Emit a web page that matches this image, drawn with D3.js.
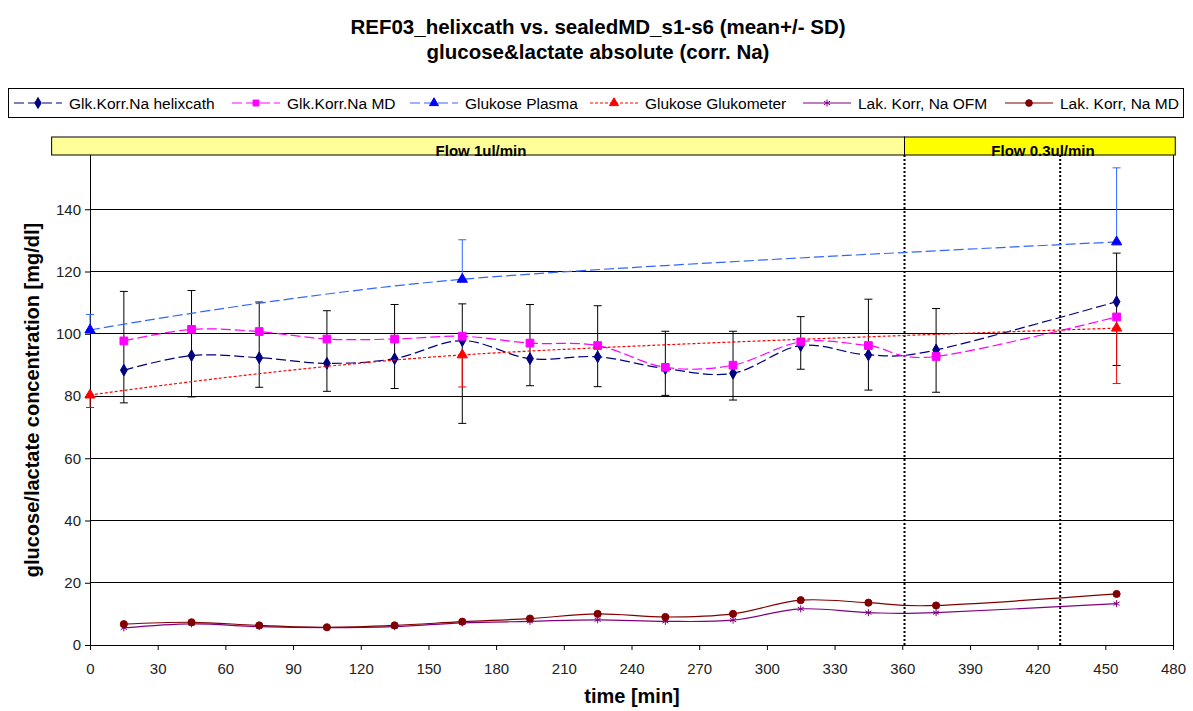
<!DOCTYPE html>
<html>
<head>
<meta charset="utf-8">
<script src="https://cdn.jsdelivr.net/npm/d3@7"></script>
<style>
  body { margin: 0; background: #fff; }
  text { font-family: Arial, "Liberation Sans", sans-serif; }
</style>
</head>
<body>
<div id="chart"></div>
<script>
// Datos (valores en mg/dl, tiempo en min)
const times = [15, 45, 75, 105, 135, 165, 195, 225, 255, 285, 315, 345, 375, 455];
const helixcath = [88.3, 93.0, 92.3, 90.5, 92.0, 97.8, 92.0, 92.6, 88.8, 87.3, 96.2, 93.2, 94.8, 110.3];
const helixHigh = [113.6, 113.9, 110.2, 107.4, 109.4, 109.6, 109.4, 109.0, 100.8, 100.8, 105.5, 111.1, 108.1, 125.9];
const helixLow = [77.8, 79.7, 82.8, 81.5, 82.4, 71.2, 83.3, 83.0, 80.2, 78.7, 88.6, 81.9, 81.2, 89.8];
const mdGlk = [97.7, 101.4, 100.7, 98.3, 98.3, 99.2, 97.0, 96.2, 89.2, 89.9, 97.4, 96.2, 92.7, 105.4];

const plasmaTimes = [0, 165, 455];
const plasma = [101.2, 117.5, 129.5];
const plasmaHigh = [106.2, 130.2, 153.3];
const glukometer = [80.3, 93.2, 101.8];
const glukometerLow = [76.3, 82.9, 84.0];

const lakOFM = [5.5, 6.8, 5.9, 5.6, 5.9, 7.1, 7.6, 8.1, 7.6, 8.0, 11.6, 10.4, 10.4, 13.3];
const lakMD = [6.7, 7.3, 6.3, 5.7, 6.3, 7.5, 8.5, 10.0, 9.0, 10.0, 14.4, 13.6, 12.7, 16.4];

const xTicks = d3.range(0, 481, 30);
const yTicks = [0, 20, 40, 60, 80, 100, 120, 140];
const flowPhases = [
  { label: "Flow 1ul/min", from: -17, to: 361, color: "#FFFF99" },
  { label: "Flow 0.3ul/min", from: 361, to: 481, color: "#FFFF00" }
];
const markerLines = [361, 430];

const legendItems = [
  { name: "Glk.Korr.Na helixcath", color: "#000080", dash: "10,4", sym: d3.symbolDiamond, mcolor: "#000080" },
  { name: "Glk.Korr.Na MD", color: "#FF00FF", dash: "10,4", sym: d3.symbolSquare, mcolor: "#FF00FF" },
  { name: "Glukose Plasma", color: "#3366FF", dash: "10,4", sym: d3.symbolTriangle, mcolor: "#0000FF" },
  { name: "Glukose Glukometer", color: "#FF0000", dash: "3,2", sym: d3.symbolTriangle, mcolor: "#FF0000" },
  { name: "Lak. Korr, Na OFM", color: "#800080", dash: null, sym: d3.symbolAsterisk, mcolor: "#800080" },
  { name: "Lak. Korr, Na MD", color: "#800000", dash: null, sym: d3.symbolCircle, mcolor: "#800000" }
];

const W = 1193, H = 711;
const MARGIN = { top: 147, bottom: 66, left: 90, right: 20 };

const svg = d3.select("#chart").append("svg").attr("width", W).attr("height", H);

const x = d3.scaleLinear().domain([0, 480]).range([MARGIN.left, W - MARGIN.right]);
const y = d3.scaleLinear().domain([0, 160]).range([H - MARGIN.bottom, MARGIN.top]);
const plotTop = 155;

// titulo
svg.append("text").attr("x", 598).attr("y", 34).attr("text-anchor", "middle")
  .style("font-size", "20.5px").style("font-weight", "bold")
  .text("REF03_helixcath vs. sealedMD_s1-s6 (mean+/- SD)");
svg.append("text").attr("x", 598).attr("y", 59).attr("text-anchor", "middle")
  .style("font-size", "20.5px").style("font-weight", "bold")
  .text("glucose&lactate absolute (corr. Na)");

// grid
svg.append("g").selectAll("line").data(yTicks.filter(d => d > 0)).join("line")
  .attr("x1", x(0)).attr("x2", x(480))
  .attr("y1", d => y(d)).attr("y2", d => y(d))
  .attr("stroke", "#000").attr("stroke-width", 1).attr("shape-rendering", "crispEdges");
// borde derecho
svg.append("line").attr("x1", x(480)).attr("x2", x(480)).attr("y1", plotTop).attr("y2", y(0))
  .attr("stroke", "#000").attr("shape-rendering", "crispEdges");

// ejes
const xAxis = svg.append("g").attr("transform", `translate(0,${y(0)})`)
  .call(d3.axisBottom(x).tickValues(xTicks).tickSize(5).tickSizeOuter(0).tickPadding(13));
const yAxis = svg.append("g").attr("transform", `translate(${x(0)},0)`)
  .call(d3.axisLeft(y).tickValues(yTicks).tickSize(5).tickSizeOuter(0).tickPadding(4));
[xAxis, yAxis].forEach(a => {
  a.select(".domain").remove();
  a.selectAll("text").style("font-size", "15px").style("font-family", "Arial, 'Liberation Sans', sans-serif").attr("fill", "#222");
  a.selectAll("line").attr("stroke", "#000");
});
svg.append("line").attr("x1", x(0)).attr("x2", x(480)).attr("y1", y(0)).attr("y2", y(0))
  .attr("stroke", "#000").attr("shape-rendering", "crispEdges");
svg.append("line").attr("x1", x(0)).attr("x2", x(0)).attr("y1", plotTop).attr("y2", y(0))
  .attr("stroke", "#000").attr("shape-rendering", "crispEdges");

// lineas punteadas de cambio de flujo
svg.append("g").selectAll("line").data(markerLines).join("line")
  .attr("x1", d => x(d)).attr("x2", d => x(d))
  .attr("y1", plotTop).attr("y2", y(0))
  .attr("stroke", "#000").attr("stroke-width", 2).attr("stroke-dasharray", "2,2");

// barras de flujo
const flow = svg.append("g");
flow.selectAll("rect").data(flowPhases).join("rect")
  .attr("x", d => x(d.from)).attr("width", d => x(d.to) - x(d.from))
  .attr("y", 137).attr("height", 18)
  .attr("fill", d => d.color).attr("stroke", "#000").attr("stroke-width", 1);
flow.selectAll("text").data(flowPhases).join("text")
  .attr("x", (d, i) => i === 0 ? 481 : 1043).attr("y", 156)
  .attr("text-anchor", "middle").style("font-size", "15px").style("font-weight", "bold")
  .text(d => d.label);

// helpers
const smooth = d3.line().curve(d3.curveCardinal.tension(0));

function errorBars(xs, lows, highs, color) {
  const g = svg.append("g");
  xs.forEach((t, i) => {
    const cx = x(t);
    g.append("line").attr("x1", cx).attr("x2", cx).attr("y1", y(lows[i])).attr("y2", y(highs[i]))
      .attr("stroke", color).attr("stroke-width", 1);
    [lows[i], highs[i]].forEach(v => {
      g.append("line").attr("x1", cx - 4).attr("x2", cx + 4).attr("y1", y(v)).attr("y2", y(v))
        .attr("stroke", color).attr("stroke-width", 1);
    });
  });
}

function drawSeries(xs, ys, item, size) {
  const pts = xs.map((t, i) => [x(t), y(ys[i])]);
  svg.append("path").attr("d", smooth(pts)).attr("fill", "none")
    .attr("stroke", item.color).attr("stroke-width", 1.2)
    .attr("stroke-dasharray", item.dash);
  svg.append("g").selectAll("path").data(pts).join("path")
    .attr("transform", d => `translate(${d[0]},${d[1]})`)
    .attr("d", d3.symbol(item.sym, size))
    .attr("fill", item.sym === d3.symbolAsterisk ? "none" : item.mcolor)
    .attr("stroke", item.mcolor).attr("stroke-width", 1);
}

// barras de error
errorBars(times, helixLow, helixHigh, "#000");
errorBars(plasmaTimes, plasma, plasmaHigh, "#3366FF");
errorBars(plasmaTimes, glukometerLow, glukometer, "#FF0000");

// series
drawSeries(times, helixcath, legendItems[0], 40);
drawSeries(times, mdGlk, legendItems[1], 60);
drawSeries(plasmaTimes, plasma, legendItems[2], 45);
drawSeries(plasmaTimes, glukometer, legendItems[3], 45);
drawSeries(times, lakOFM, legendItems[4], 35);
drawSeries(times, lakMD, legendItems[5], 40);

// leyenda
const legend = svg.append("g");
legend.append("rect").attr("x", 8.5).attr("y", 88.5).attr("width", 1175).attr("height", 29)
  .attr("fill", "#fff").attr("stroke", "#000");
const legendX = [14, 232, 410, 590, 803, 1005];
legendItems.forEach((d, i) => {
  const lx = legendX[i], ly = 103;
  legend.append("line").attr("x1", lx).attr("x2", lx + 48).attr("y1", ly).attr("y2", ly)
    .attr("stroke", d.color).attr("stroke-width", 1.2).attr("stroke-dasharray", d.dash);
  legend.append("path").attr("transform", `translate(${lx + 24},${ly})`)
    .attr("d", d3.symbol(d.sym, 35))
    .attr("fill", d.sym === d3.symbolAsterisk ? "none" : d.mcolor).attr("stroke", d.mcolor);
  legend.append("text").attr("x", lx + 55).attr("y", ly + 5.5)
    .style("font-size", "15.5px").text(d.name);
});

// titulos de ejes
svg.append("text").attr("transform", `translate(39,400) rotate(-90)`).attr("text-anchor", "middle")
  .style("font-size", "20px").style("font-weight", "bold")
  .text("glucose/lactate concentration [mg/dl]");
svg.append("text").attr("x", 632).attr("y", 703).attr("text-anchor", "middle")
  .style("font-size", "20px").style("font-weight", "bold")
  .text("time [min]");
</script>
</body>
</html>
